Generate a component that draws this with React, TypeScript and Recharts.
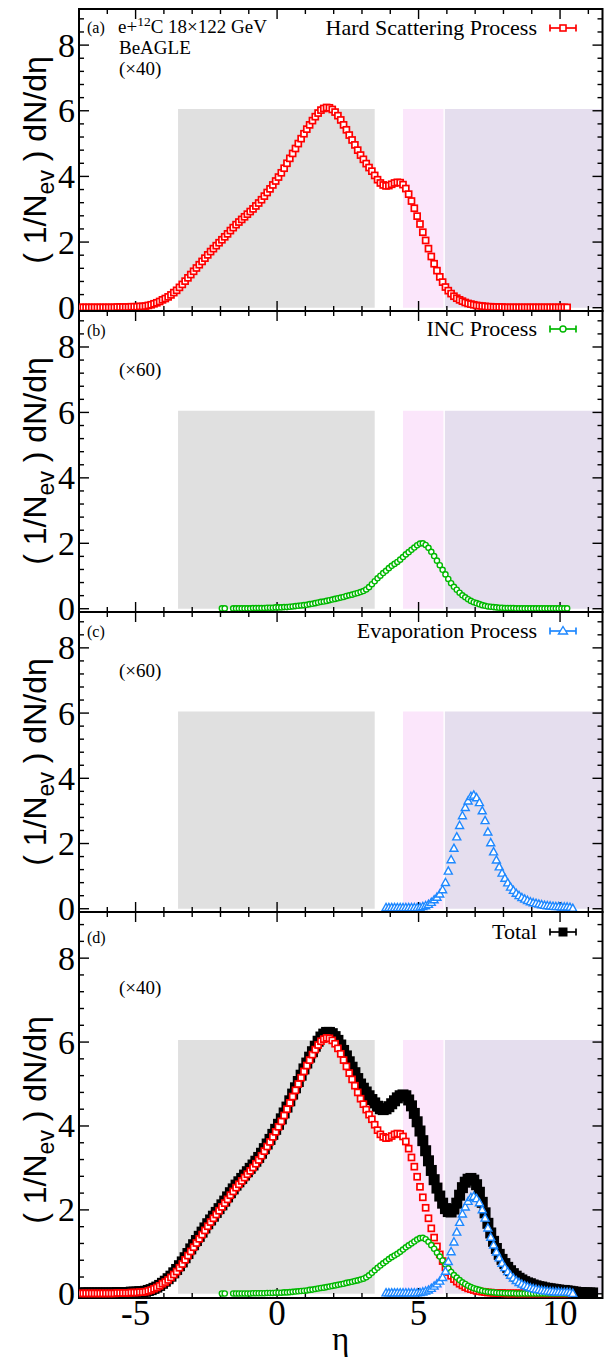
import React from 'react';
import { ComposedChart, Scatter, XAxis, YAxis, ReferenceArea, ReferenceLine } from 'recharts';

// ---------- data (bin width 0.1 in eta) ----------
const STEP = 0.1;

// (a) Hard scattering process, x40
const HARD_START = -6.95;
const HARD: (number | null)[] = [
  0.01, 0.01, 0.01, 0.01, 0.01, 0.01, 0.01, 0.01, 0.01, 0.01,
  0.01, 0.01, 0.01, 0.02, 0.02, 0.02, 0.02, 0.02, 0.03, 0.03,
  0.03, 0.04, 0.04, 0.05, 0.07, 0.09, 0.12, 0.15, 0.19, 0.24,
  0.28, 0.33, 0.39, 0.46, 0.53, 0.62, 0.71, 0.81, 0.91, 1.01,
  1.11, 1.21, 1.31, 1.41, 1.51, 1.61, 1.71, 1.80, 1.89, 1.98,
  2.07, 2.16, 2.25, 2.35, 2.44, 2.53, 2.61, 2.69, 2.77, 2.85,
  2.93, 3.01, 3.10, 3.19, 3.29, 3.40, 3.51, 3.62, 3.74, 3.86,
  3.98, 4.11, 4.25, 4.40, 4.55, 4.70, 4.85, 5.00, 5.15, 5.30,
  5.44, 5.57, 5.70, 5.82, 5.93, 6.02, 6.07, 6.10, 6.09, 6.04,
  5.96, 5.85, 5.72, 5.57, 5.42, 5.26, 5.11, 4.96, 4.80, 4.65,
  4.52, 4.39, 4.27, 4.16, 4.03, 3.90, 3.80, 3.74, 3.71, 3.72,
  3.76, 3.80, 3.82, 3.81, 3.75, 3.63, 3.46, 3.25, 3.03, 2.79,
  2.55, 2.30, 2.05, 1.80, 1.56, 1.34, 1.13, 0.94, 0.78, 0.63,
  0.52, 0.43, 0.35, 0.29, 0.24, 0.20, 0.16, 0.13, 0.11, 0.09,
  0.07, 0.06, 0.05, 0.04, 0.03, 0.03, 0.02, 0.02, 0.02, 0.02,
  0.01, 0.01, 0.01, 0.01, 0.01, 0.01, 0.01, 0.01, 0.01, 0.01,
  0.01, 0.01, 0.01, 0.01, 0.01, 0.01, 0.01, 0.01, 0.01, 0.01,
  0.01, 0.01, 0.01,
];

// (b) INC process, x60
const INC_START = -1.95;
const INC: (number | null)[] = [
  0.01, 0.01, null, null, 0.01, 0.01, 0.01, 0.01, 0.01, 0.01,
  0.01, 0.02, 0.02, 0.02, 0.02, 0.02, 0.03, 0.03, 0.03, 0.04,
  0.04, 0.04, 0.05, 0.05, 0.06, 0.07, 0.08, 0.09, 0.10, 0.11,
  0.12, 0.14, 0.15, 0.17, 0.19, 0.21, 0.22, 0.24, 0.26, 0.28,
  0.30, 0.32, 0.34, 0.36, 0.39, 0.41, 0.43, 0.46, 0.48, 0.51,
  0.54, 0.59, 0.66, 0.75, 0.84, 0.93, 1.01, 1.09, 1.16, 1.24,
  1.31, 1.37, 1.43, 1.50, 1.58, 1.66, 1.73, 1.80, 1.87, 1.94,
  1.99, 2.00, 1.95, 1.86, 1.74, 1.61, 1.47, 1.33, 1.19, 1.05,
  0.91, 0.78, 0.67, 0.58, 0.49, 0.41, 0.35, 0.29, 0.24, 0.20,
  0.17, 0.14, 0.11, 0.09, 0.07, 0.06, 0.05, 0.04, 0.03, 0.03,
  0.02, 0.02, 0.02, 0.02, 0.01, 0.01, 0.01, 0.01, 0.01, 0.01,
  0.01, 0.01, 0.01, 0.01, 0.01, 0.01, 0.01, 0.01, 0.01, 0.01,
  0.01, 0.01, 0.01,
];

// (c) Evaporation process, x60
const EVAP_START = 3.85;
const EVAP: (number | null)[] = [
  0.03, 0.03,
  0.03, 0.03, 0.03, 0.03, 0.03, 0.03, 0.03, 0.03, 0.03, 0.03,
  0.04, 0.06, 0.09, 0.13, 0.19, 0.27, 0.35, 0.45, 0.58, 0.80,
  1.15, 1.50, 1.85, 2.20, 2.55, 2.85, 3.10, 3.30, 3.44, 3.48,
  3.40, 3.25, 3.00, 2.70, 2.35, 2.02, 1.74, 1.49, 1.28, 1.09,
  0.93, 0.79, 0.66, 0.56, 0.47, 0.40, 0.34, 0.29, 0.25, 0.21,
  0.18, 0.16, 0.14, 0.12, 0.10, 0.09, 0.08, 0.07, 0.06, 0.06,
  0.05, 0.05, 0.05, 0.04, 0.01,
];

// (d) Total, x40
const TOTAL_START = -6.95;
const TOTAL: (number | null)[] = [
  0.02, 0.02, 0.02, 0.02, 0.02, 0.02, 0.02, 0.02, 0.02, 0.02,
  0.02, 0.02, 0.02, 0.03, 0.03, 0.03, 0.03, 0.03, 0.04, 0.04,
  0.04, 0.05, 0.05, 0.06, 0.08, 0.10, 0.13, 0.16, 0.20, 0.25,
  0.30, 0.36, 0.42, 0.50, 0.58, 0.67, 0.76, 0.86, 0.96, 1.07,
  1.17, 1.27, 1.37, 1.47, 1.57, 1.67, 1.76, 1.85, 1.94, 2.03,
  2.12, 2.21, 2.31, 2.41, 2.50, 2.59, 2.67, 2.75, 2.83, 2.91,
  2.99, 3.07, 3.16, 3.25, 3.35, 3.46, 3.57, 3.68, 3.80, 3.92,
  4.04, 4.17, 4.31, 4.45, 4.60, 4.76, 4.91, 5.06, 5.21, 5.36,
  5.50, 5.64, 5.77, 5.90, 6.02, 6.12, 6.19, 6.23, 6.23, 6.20,
  6.13, 6.04, 5.93, 5.80, 5.67, 5.53, 5.40, 5.27, 5.13, 5.00,
  4.90, 4.81, 4.72, 4.63, 4.55, 4.47, 4.41, 4.39, 4.41, 4.46,
  4.53, 4.60, 4.67, 4.72, 4.74, 4.72, 4.62, 4.48, 4.30, 4.10,
  3.88, 3.65, 3.41, 3.17, 2.94, 2.72, 2.52, 2.33, 2.16, 2.03,
  1.96, 1.95, 2.02, 2.16, 2.35, 2.53, 2.66, 2.73, 2.75, 2.71,
  2.60, 2.42, 2.18, 1.93, 1.68, 1.45, 1.25, 1.08, 0.94, 0.82,
  0.72, 0.63, 0.55, 0.48, 0.42, 0.37, 0.33, 0.29, 0.26, 0.24,
  0.21, 0.19, 0.17, 0.16, 0.14, 0.13, 0.12, 0.11, 0.10, 0.09,
  0.08, 0.08, 0.07, 0.06, 0.05, 0.04, 0.03, 0.03, 0.02, 0.02,
  0.02, 0.02,
];

// multipliers quoted in the panels: (b),(c) are x60, (d) is x40
const MULT_BC = 60;
const MULT_D = 40;

// axes
const X_DOMAIN: [number, number] = [-7, 11.5];
const Y_DOMAIN: [number, number] = [-0.1, 9.1];
const X_TICKS = [-6, -5, -4, -3, -2, -1, 0, 1, 2, 3, 4, 5, 6, 7, 8, 9, 10, 11];
const X_MAJOR = [-5, 0, 5, 10];
const X_LABELS = ['-5', '0', '5', '10'];
const Y_TICKS = [0, 0.4, 0.8, 1.2, 1.6, 2, 2.4, 2.8, 3.2, 3.6, 4, 4.4, 4.8, 5.2, 5.6, 6, 6.4, 6.8, 7.2, 7.6, 8, 8.4, 8.8];
const Y_MAJOR = [0, 2, 4, 6, 8];

// detector acceptance bands (eta ranges) and their height
const BANDS = [
  { x1: -3.5, x2: 3.45, fill: '#e0e0e0' },
  { x1: 4.45, x2: 5.88, fill: '#fbe6fb' },
  { x1: 5.93, x2: 11.5, fill: '#e5deee' },
];
const BAND_Y: [number, number] = [0, 6.05];

// ---------- layout / style ----------
const W = 609;
const H = 1361;
const PLOT_LEFT = 79;
const PLOT_RIGHT = 602.5;
const SERIF = '"Liberation Serif", "Times New Roman", serif';
const SANS = '"Liberation Sans", Arial, sans-serif';
const RED = '#ff0000';
const GREEN = '#00b800';
const BLUE = '#1e88ff';
const BLACK = '#000000';

function toPoints(start: number, values: (number | null)[], factor = 1) {
  const pts: { x: number; y: number }[] = [];
  values.forEach((v, i) => {
    if (v !== null) pts.push({ x: +(start + i * STEP).toFixed(2), y: v * factor });
  });
  return pts;
}

const hardPts = toPoints(HARD_START, HARD);
const incPts = toPoints(INC_START, INC);
const evapPts = toPoints(EVAP_START, EVAP);
const totalPts = toPoints(TOTAL_START, TOTAL);
const incPtsD = toPoints(INC_START, INC, MULT_D / MULT_BC);
const evapPtsD = toPoints(EVAP_START, EVAP, MULT_D / MULT_BC);

const isMajor = (v: number, majors: number[]) => majors.some((m) => Math.abs(m - v) < 1e-6);

const BottomLabel = (props: any) => {
  const { x, y, payload } = props;
  const idx = X_MAJOR.findIndex((m) => Math.abs(m - payload.value) < 1e-6);
  if (idx < 0) return <g />;
  return (
    <text x={x} y={y + 27} textAnchor="middle" fontFamily={SERIF} fontSize={35} fill="#000">
      {X_LABELS[idx]}
    </text>
  );
};

const LeftLabel = (props: any) => {
  const { x, y, payload } = props;
  if (!isMajor(payload.value, Y_MAJOR)) return <g />;
  return (
    <text x={x - 4} y={y + 11.5} textAnchor="end" fontFamily={SERIF} fontSize={34} fill="#000">
      {String(Math.round(payload.value))}
    </text>
  );
};

const openSquare = (color: string, s: number) => (p: any) => (
  <rect x={p.cx - s / 2} y={p.cy - s / 2} width={s} height={s} fill="#fff" stroke={color} strokeWidth={1.7} />
);
const filledSquare = (color: string, s: number) => (p: any) => (
  <rect x={p.cx - s / 2} y={p.cy - s / 2} width={s} height={s} fill={color} stroke="none" />
);
const openCircle = (color: string, r: number) => (p: any) => (
  <circle cx={p.cx} cy={p.cy} r={r} fill="#fff" stroke={color} strokeWidth={1.4} />
);
const openTriangle = (color: string, s: number) => (p: any) => {
  const h = s * 0.9;
  const d = `M${p.cx},${p.cy - h * 0.6} L${p.cx + s / 2},${p.cy + h * 0.4} L${p.cx - s / 2},${p.cy + h * 0.4} Z`;
  return <path d={d} fill="#fff" stroke={color} strokeWidth={1.4} />;
};

// frame ticks drawn inward, lengths given in pixels and converted with the panel's pixel scale
function frameTicks(top: number, bottom: number) {
  const pxPerY = (bottom - top) / (Y_DOMAIN[1] - Y_DOMAIN[0]);
  const pxPerX = (PLOT_RIGHT - PLOT_LEFT) / (X_DOMAIN[1] - X_DOMAIN[0]);
  const els: React.ReactNode[] = [];
  X_TICKS.forEach((t) => {
    const len = (isMajor(t, X_MAJOR) ? 10 : 5) / pxPerY;
    els.push(
      <ReferenceLine key={`xb${t}`} xAxisId="b" yAxisId="l" ifOverflow="visible" stroke="#000" strokeWidth={1.4}
        segment={[{ x: t, y: Y_DOMAIN[0] }, { x: t, y: Y_DOMAIN[0] + len }]} />,
      <ReferenceLine key={`xt${t}`} xAxisId="b" yAxisId="l" ifOverflow="visible" stroke="#000" strokeWidth={1.4}
        segment={[{ x: t, y: Y_DOMAIN[1] }, { x: t, y: Y_DOMAIN[1] - len }]} />,
    );
  });
  Y_TICKS.forEach((t) => {
    const len = (isMajor(t, Y_MAJOR) ? 10 : 5) / pxPerX;
    els.push(
      <ReferenceLine key={`yl${t}`} xAxisId="b" yAxisId="l" ifOverflow="visible" stroke="#000" strokeWidth={1.4}
        segment={[{ x: X_DOMAIN[0], y: t }, { x: X_DOMAIN[0] + len, y: t }]} />,
      <ReferenceLine key={`yr${t}`} xAxisId="b" yAxisId="l" ifOverflow="visible" stroke="#000" strokeWidth={1.4}
        segment={[{ x: X_DOMAIN[1], y: t }, { x: X_DOMAIN[1] - len, y: t }]} />,
    );
  });
  return els;
}

function Panel({ top, bottom, showXLabels, children }: { top: number; bottom: number; showXLabels: boolean; children: React.ReactNode }) {
  const xAxisH = showXLabels ? 40 : 0;
  return (
    <div style={{ position: 'absolute', left: 0, top: 0 }}>
      <ComposedChart width={W} height={H} margin={{ top, bottom: H - bottom - xAxisH, left: 0, right: W - PLOT_RIGHT }}>
        <XAxis xAxisId="b" type="number" dataKey="x" domain={X_DOMAIN} allowDataOverflow ticks={X_TICKS} interval={0}
          hide={!showXLabels} height={xAxisH || 1} tickSize={0} tickMargin={0} tickLine={false} axisLine={false}
          tick={BottomLabel} />
        <YAxis yAxisId="l" type="number" dataKey="y" domain={Y_DOMAIN} allowDataOverflow ticks={Y_TICKS} interval={0}
          width={PLOT_LEFT} tickSize={0} tickMargin={0} tickLine={false} axisLine={false}
          tick={LeftLabel} />
        {BANDS.map((b, i) => (
          <ReferenceArea key={`band${i}`} xAxisId="b" yAxisId="l" x1={b.x1} x2={b.x2} y1={BAND_Y[0]} y2={BAND_Y[1]}
            fill={b.fill} fillOpacity={1} stroke="none" ifOverflow="visible" />
        ))}
        {children}
        <ReferenceArea xAxisId="b" yAxisId="l" x1={X_DOMAIN[0]} x2={X_DOMAIN[1]} y1={Y_DOMAIN[0]} y2={Y_DOMAIN[1]}
          fill="none" fillOpacity={0} stroke="#000" strokeWidth={2} ifOverflow="visible" />
        {frameTicks(top, bottom)}
      </ComposedChart>
    </div>
  );
}

function LegendMark({ x, y, color, kind }: { x: number; y: number; color: string; kind: string }) {
  let m: React.ReactNode = null;
  if (kind === 'sq') m = <rect x={x - 3} y={y - 3} width={6} height={6} fill="#fff" stroke={color} strokeWidth={1.6} />;
  if (kind === 'ci') m = <circle cx={x} cy={y} r={3} fill="#fff" stroke={color} strokeWidth={1.4} />;
  if (kind === 'tr') m = <path d={`M${x},${y - 4.5} L${x + 4.5},${y + 3} L${x - 4.5},${y + 3} Z`} fill="#fff" stroke={color} strokeWidth={1.4} />;
  if (kind === 'fs') m = <rect x={x - 4.5} y={y - 4.5} width={9} height={9} fill={color} />;
  return (
    <g>
      <line x1={x - 13} x2={x + 13} y1={y} y2={y} stroke={color} strokeWidth={1.7} />
      <line x1={x - 13} x2={x - 13} y1={y - 3.5} y2={y + 3.5} stroke={color} strokeWidth={1.7} />
      <line x1={x + 13} x2={x + 13} y1={y - 3.5} y2={y + 3.5} stroke={color} strokeWidth={1.7} />
      {m}
    </g>
  );
}

function YTitle({ cy }: { cy: number }) {
  return (
    <text transform={`translate(46, ${cy}) rotate(-90)`} textAnchor="middle" fontFamily={SANS} fontSize={32} fill="#000">
      {'( 1/N'}
      <tspan fontSize={23} dy={8}>ev</tspan>
      <tspan dy={-8}>{' ) dN/dη'}</tspan>
    </text>
  );
}

const LEG_X = 537;
const MARK_X = 563;

export default function App() {
  return (
    <div style={{ position: 'absolute', left: 0, top: 0, width: W, height: H, background: '#fff', overflow: 'hidden' }}>
      <Panel top={9} bottom={311} showXLabels={false}>
        <Scatter xAxisId="b" yAxisId="l" data={hardPts} shape={openSquare(RED, 6)} isAnimationActive={false} />
      </Panel>
      <Panel top={311} bottom={612} showXLabels={false}>
        <Scatter xAxisId="b" yAxisId="l" data={incPts} shape={openCircle(GREEN, 2.6)} isAnimationActive={false} />
      </Panel>
      <Panel top={612} bottom={912} showXLabels={false}>
        <Scatter xAxisId="b" yAxisId="l" data={evapPts} shape={openTriangle(BLUE, 8)} isAnimationActive={false} />
      </Panel>
      <Panel top={912} bottom={1298} showXLabels={true}>
        <Scatter xAxisId="b" yAxisId="l" data={totalPts} shape={filledSquare(BLACK, 11)} isAnimationActive={false} />
        <Scatter xAxisId="b" yAxisId="l" data={hardPts} shape={openSquare(RED, 6)} isAnimationActive={false} />
        <Scatter xAxisId="b" yAxisId="l" data={incPtsD} shape={openCircle(GREEN, 2.6)} isAnimationActive={false} />
        <Scatter xAxisId="b" yAxisId="l" data={evapPtsD} shape={openTriangle(BLUE, 8)} isAnimationActive={false} />
      </Panel>

      <svg width={W} height={H} style={{ position: 'absolute', left: 0, top: 0, pointerEvents: 'none' }}>
        <YTitle cy={160} />
        <YTitle cy={461} />
        <YTitle cy={762} />
        <YTitle cy={1120} />

        <g fontFamily={SERIF} fill="#000">
          <text x={87} y={33} fontSize={16}>(a)</text>
          <text x={118} y={33} fontSize={19}>
            {'e+'}
            <tspan fontSize={13.5} dy={-7.5}>12</tspan>
            <tspan dy={7.5}>{'C 18×122 GeV'}</tspan>
          </text>
          <text x={119} y={54} fontSize={19}>BeAGLE</text>
          <text x={119} y={75} fontSize={19}>(×40)</text>

          <text x={87} y={336} fontSize={16}>(b)</text>
          <text x={119} y={376} fontSize={19}>(×60)</text>

          <text x={87} y={637} fontSize={16}>(c)</text>
          <text x={119} y={677} fontSize={19}>(×60)</text>

          <text x={87} y={943} fontSize={16}>(d)</text>
          <text x={119} y={994} fontSize={19}>(×40)</text>

          <text x={LEG_X} y={35} fontSize={22} textAnchor="end">Hard Scattering Process</text>
          <text x={LEG_X} y={336} fontSize={22} textAnchor="end">INC Process</text>
          <text x={LEG_X} y={638} fontSize={22} textAnchor="end">Evaporation Process</text>
          <text x={LEG_X} y={939} fontSize={22} textAnchor="end">Total</text>

          <text x={340.7} y={1350} fontSize={33} textAnchor="middle">η</text>
        </g>

        <LegendMark x={MARK_X} y={28} color={RED} kind="sq" />
        <LegendMark x={MARK_X} y={329} color={GREEN} kind="ci" />
        <LegendMark x={MARK_X} y={631} color={BLUE} kind="tr" />
        <LegendMark x={MARK_X} y={932} color={BLACK} kind="fs" />
      </svg>
    </div>
  );
}
